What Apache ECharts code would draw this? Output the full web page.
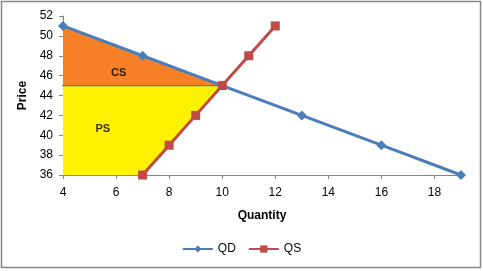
<!DOCTYPE html>
<html>
<head>
<meta charset="utf-8">
<script src="https://cdn.jsdelivr.net/npm/echarts@6/dist/echarts.min.js"></script>
<style>
    html, body { margin: 0; padding: 0; background: #fff; }
    #chart { width: 483px; height: 271px; }
</style>
</head>
<body>
<div id="chart"></div>
<script>
// demand / supply schedules
const qdPoints = [[4, 51], [7, 48], [10, 45], [13, 42], [16, 39], [19, 36]];
const qsPoints = [[7, 36], [8, 39], [9, 42], [10, 45], [11, 48], [12, 51]];

// surplus regions
const csPolygon = [[4, 51], [10, 45], [4, 45]];
const psPolygon = [[4, 45], [10, 45], [7, 36], [4, 36]];
const priceLine = [[3.8, 45], [10, 45]];

const areaLabels = [
    { name: 'CS', value: [6.1, 46.3] },
    { name: 'PS', value: [5.5, 40.6] }
];

const font = 'Liberation Sans, Arial, sans-serif';

function polygonSeries(name, points, color) {
    return {
        name: name,
        type: 'custom',
        silent: true,
        z: 1,
        renderItem: (params, api) => ({
            type: 'polygon',
            shape: { points: points.map(p => api.coord(p)) },
            style: { fill: color }
        }),
        data: [points[0]]
    };
}

const chart = echarts.init(document.getElementById('chart'));

chart.setOption({
    animation: false,
    textStyle: { fontFamily: font },
    graphic: [{
        type: 'rect',
        shape: { x: 1.5, y: 1.5, width: 479, height: 266 },
        style: { fill: 'none', stroke: '#868686', lineWidth: 1.5 },
        z: 0
    }],
    grid: { left: 63, right: 22, top: 16, bottom: 96 },
    legend: {
        data: ['QD', 'QS'],
        bottom: 11,
        left: 'center',
        itemWidth: 30,
        itemHeight: 9,
        itemGap: 12,
        textStyle: { fontSize: 12, color: '#000', fontFamily: font }
    },
    xAxis: {
        type: 'value',
        min: 4,
        max: 19,
        interval: 2,
        name: 'Quantity',
        nameLocation: 'middle',
        nameGap: 35,
        nameTextStyle: { fontWeight: 'bold', fontSize: 12, color: '#000' },
        splitLine: { show: false },
        axisLine: { lineStyle: { color: '#868686' } },
        axisTick: { length: 4, lineStyle: { color: '#868686' } },
        axisLabel: { color: '#000', fontSize: 12, margin: 12, showMaxLabel: false }
    },
    yAxis: {
        type: 'value',
        min: 36,
        max: 52,
        interval: 2,
        name: 'Price',
        nameLocation: 'middle',
        nameGap: 32,
        nameTextStyle: { fontWeight: 'bold', fontSize: 12, color: '#000' },
        splitLine: { show: false },
        axisLine: { show: true, lineStyle: { color: '#868686' } },
        axisTick: { show: true, length: 4, lineStyle: { color: '#868686' } },
        axisLabel: { color: '#000', fontSize: 12, margin: 10 }
    },
    series: [
        polygonSeries('CS', csPolygon, '#F68026'),
        polygonSeries('PS', psPolygon, '#FFF200'),
        {
            name: 'price',
            type: 'line',
            data: priceLine,
            symbol: 'none',
            clip: false,
            silent: true,
            z: 2,
            lineStyle: { color: '#4A7EBB', width: 1.2 }
        },
        {
            name: 'labels',
            type: 'scatter',
            data: areaLabels,
            symbolSize: 0,
            silent: true,
            z: 3,
            label: {
                show: true,
                formatter: p => p.name,
                position: 'inside',
                fontWeight: 'bold',
                fontSize: 11,
                color: '#000'
            }
        },
        {
            name: 'QD',
            type: 'line',
            data: qdPoints,
            symbol: 'diamond',
            symbolSize: 10,
            z: 4,
            color: '#4A7EBB',
            itemStyle: { color: '#4A7EBB' },
            lineStyle: { color: '#4A7EBB', width: 3 }
        },
        {
            name: 'QS',
            type: 'line',
            data: qsPoints,
            symbol: 'rect',
            symbolSize: 9,
            z: 5,
            color: '#BE4B48',
            itemStyle: { color: '#BE4B48' },
            lineStyle: { color: '#BE4B48', width: 3 }
        }
    ]
});
</script>
</body>
</html>
